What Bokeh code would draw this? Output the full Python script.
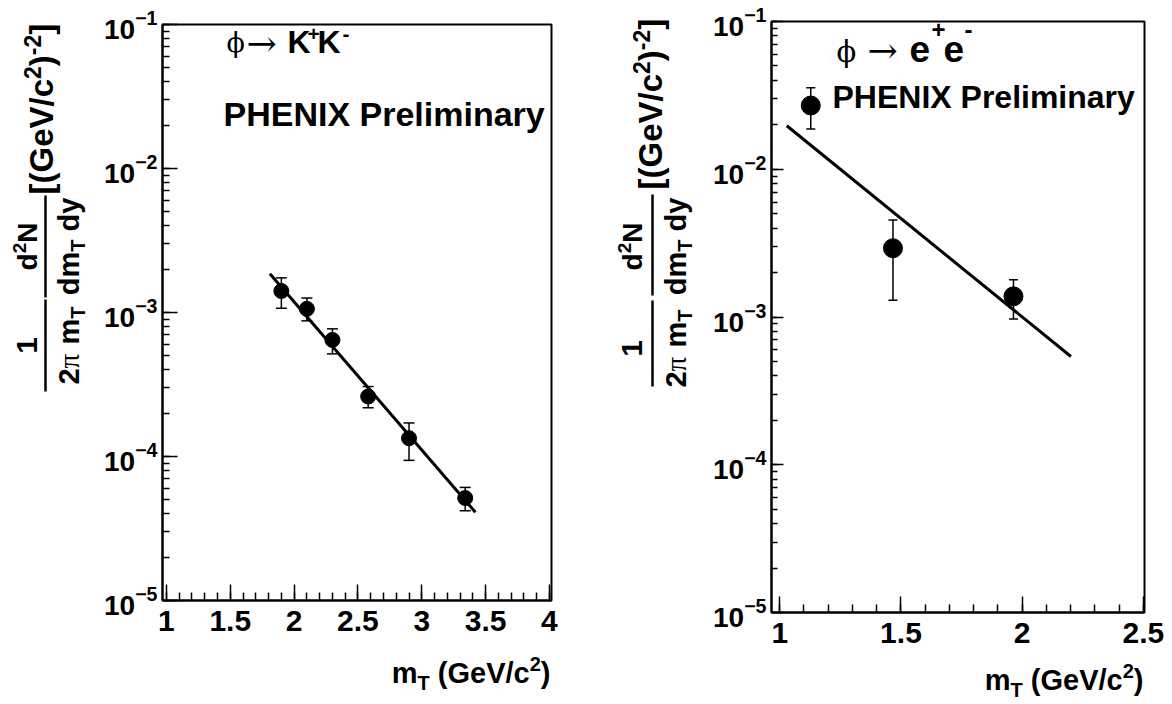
import math
from bokeh.plotting import figure
from bokeh.layouts import row, column
from bokeh.core.properties import value
from bokeh.models import (Range1d, LogTicker, SingleIntervalTicker, Label,
                          Whisker, TeeHead, ColumnDataSource, CustomJSTickFormatter)
from bokeh.embed import file_html
from bokeh.resources import INLINE

# ---------------- data ----------------
kk_mt = [1.90, 2.10, 2.30, 2.58, 2.90, 3.34]
kk_y = [1.41e-3, 1.06e-3, 6.45e-4, 2.61e-4, 1.34e-4, 5.15e-5]
kk_hi = [1.74e-3, 1.26e-3, 7.7e-4, 3.06e-4, 1.71e-4, 6.1e-5]
kk_lo = [1.07e-3, 8.75e-4, 5.16e-4, 2.18e-4, 9.4e-5, 4.2e-5]
kk_fit_mt = [1.81, 3.42]
kk_fit_y = [1.86e-3, 4.1e-5]

ee_mt = [1.128, 1.467, 1.964]
ee_y = [2.70e-2, 2.92e-3, 1.38e-3]
ee_hi = [3.56e-2, 4.54e-3, 1.79e-3]
ee_lo = [1.87e-2, 1.30e-3, 9.7e-4]
ee_fit_mt = [1.029, 2.201]
ee_fit_y = [1.97e-2, 5.4e-4]

y_lo, y_hi = 1e-5, 1e-1
kk_xrange = (0.969, 4.016)
ee_xrange = (0.966, 2.5045)

SANS = "Liberation Sans"
SERIF = "DejaVu Serif"
TIMES = "Liberation Serif"

# Arial/Liberation Sans Bold advance widths (1/1000 em)
WID = {' ': 278, '(': 333, ')': 333, '[': 333, ']': 333, '/': 278, '-': 333, '+': 584,
       'G': 778, 'V': 667, 'K': 722, 'T': 611, 'N': 722, 'c': 556, 'd': 611, 'e': 556,
       'm': 889, 'y': 556, '1': 556, '2': 556, 'π': 549}
BASE_K = 0.36   # renderer draws "alphabetic" text ~0.36 em low; compensate


def tw(s, fs):
    return sum(WID.get(ch, 556) for ch in s) * fs / 1000.0


# ---------------- plot panels ----------------
def make_fig(width, height, xr, bl, br, bt, bb, tick_in, xtick_in):
    p = figure(width=width, height=height, x_range=Range1d(*xr),
               y_range=Range1d(y_lo, y_hi), y_axis_type="log",
               output_backend="svg", toolbar_location=None,
               min_border_left=bl, min_border_right=br,
               min_border_top=bt, min_border_bottom=bb)
    p.grid.visible = False
    p.outline_line_color = "black"
    p.outline_line_width = 2
    p.background_fill_color = "white"
    p.border_fill_color = "white"
    for ax in (p.xaxis[0], p.yaxis[0]):
        ax.axis_line_width = 2
        ax.axis_line_color = "black"
        ax.major_tick_out = 0
        ax.minor_tick_out = 0
        ax.major_tick_line_width = 1.5
        ax.minor_tick_line_width = 1.5
        ax.major_label_text_font = SANS
        ax.major_label_text_font_style = "bold"
        ax.major_label_text_color = "black"
    p.xaxis.major_label_text_font_size = "30px"
    p.yaxis.major_label_text_font_size = "28px"
    p.xaxis.ticker = SingleIntervalTicker(interval=0.5, num_minor_ticks=5)
    p.xaxis.formatter = CustomJSTickFormatter(
        code="return tick.toFixed(1).replace(/\\.0$/, '');")
    p.xaxis.major_tick_in = xtick_in
    p.xaxis.minor_tick_in = xtick_in // 2
    p.xaxis.major_label_standoff = 10
    p.yaxis.ticker = LogTicker(num_minor_ticks=10)
    p.yaxis.major_tick_in = tick_in
    p.yaxis.minor_tick_in = tick_in // 2
    p.yaxis.major_label_standoff = 5
    return p


class Frame:
    """page-pixel -> data conversion for labels inside a plot frame"""
    def __init__(self, L, R, T, B, xr):
        self.L, self.R, self.T, self.B = L, R, T, B
        self.x0, self.x1 = xr

    def data(self, X, Y):
        x = self.x0 + (X - self.L) / (self.R - self.L) * (self.x1 - self.x0)
        ly = math.log10(y_hi) - (Y - self.T) / (self.B - self.T) * (math.log10(y_hi) - math.log10(y_lo))
        return x, 10 ** ly


def lab(p, F, text, X, Y, fs, font=SANS, bold=True):
    x, y = F.data(X, Y - BASE_K * fs)
    p.add_layout(Label(x=x, y=y, text=text, text_font=font,
                       text_font_size=f"{fs}px",
                       text_font_style="bold" if bold else "normal",
                       text_align="left", text_baseline="alphabetic",
                       text_color="black"))


def data_marks(p, xs, ys, hi, lo, fx, fy, msize, cap):
    src = ColumnDataSource(dict(x=xs, y=ys, upper=hi, lower=lo))
    p.add_layout(Whisker(source=src, base="x", upper="upper", lower="lower",
                         line_width=1.5, line_color="black",
                         upper_head=TeeHead(size=cap, line_width=1.5, line_color="black"),
                         lower_head=TeeHead(size=cap, line_width=1.5, line_color="black")))
    p.scatter("x", "y", source=src, size=msize, color="black")
    p.line(fx, fy, line_width=3, color="black")


# ---------------- text-only panels (axis titles) ----------------
def text_fig(X0, X1, Y0, Y1, bl=0, br=0):
    """frame covers page pixels X0..X1 (plus borders bl/br outside it)"""
    p = figure(width=X1 - X0 + bl + br, height=Y1 - Y0, x_range=Range1d(X0, X1),
               y_range=Range1d(-Y1, -Y0), output_backend="svg", title=None,
               toolbar_location=None, min_border=0,
               min_border_left=bl, min_border_right=br,
               x_axis_location=None, y_axis_location=None)
    p.grid.visible = False
    p.outline_line_color = None
    p.background_fill_color = "white"
    p.border_fill_color = "white"
    return p


def tx(p, text, X, Y, fs, font=SANS, bold=True, angle=0.0):
    p.text(x=[X], y=[-Y], text=[text], text_font=value(font),
           text_font_size=value(f"{fs}px"),
           text_font_style=value("bold" if bold else "normal"),
           text_align=value("left"), text_baseline=value("alphabetic"),
           angle=angle, text_color="black")


def split_lead(t, fs):
    s = t.lstrip(" ")
    return s, (len(t) - len(s)) * WID[' '] * fs / 1000.0


def run_h(p, pieces, X, Y):
    for t, fs, font, bold, dy in pieces:
        s, lead = split_lead(t, fs)
        tx(p, s, X + lead, Y + dy - BASE_K * fs, fs, font, bold)
        X += tw(t, fs)


def run_v(p, pieces, X, Y):
    for t, fs, font, bold, dx in pieces:
        s, lead = split_lead(t, fs)
        tx(p, s, X + dx - BASE_K * fs, Y - lead, fs, font, bold, angle=math.pi / 2)
        Y -= tw(t, fs)


def run_v_center(p, pieces, X, Yc):
    total = sum(tw(t, fs) for t, fs, _, _, _ in pieces)
    run_v(p, pieces, X, Yc + total / 2)


def y_title(p, L, offs, yc1, bar1, yc2, bar2, br_start):
    xn, xb, xd, xk = (L + o for o in offs)
    fn, fd, fsm, fsb, fsbs = 28, 29, 20, 33, 23
    run_v_center(p, [("1", 30, SANS, True, 0)], xn, yc1)
    run_v_center(p, [("2", fd, SANS, True, 0), ("π", fd, TIMES, False, 0),
                     (" m", fd, SANS, True, 0), ("T", fsm, SANS, True, 6)], xd, yc1)
    p.segment(x0=[xb], y0=[-bar1[0]], x1=[xb], y1=[-bar1[1]], line_width=2.5, color="black")
    run_v_center(p, [("d", fn, SANS, True, 0), ("2", 19, SANS, True, -11),
                     ("N", fn, SANS, True, 0)], xn, yc2)
    run_v_center(p, [("dm", fd, SANS, True, 0), ("T", fsm, SANS, True, 6),
                     (" dy", fd, SANS, True, 0)], xd, yc2)
    p.segment(x0=[xb], y0=[-bar2[0]], x1=[xb], y1=[-bar2[1]], line_width=2.5, color="black")
    run_v(p, [("[(GeV/c", fsb, SANS, True, 0), ("2", fsbs, SANS, True, -13),
              (")", fsb, SANS, True, 0), ("-2", fsbs, SANS, True, -13),
              ("]", fsb, SANS, True, 0)], xk, br_start)


def x_title(p, end_x, base_y):
    fs, fsm = 29, 20
    pieces = [("m", fs, SANS, True, 0), ("T", fsm, SANS, True, 7),
              (" (GeV/c", fs, SANS, True, 0), ("2", fsm, SANS, True, -12),
              (")", fs, SANS, True, 0)]
    total = sum(tw(t, s) for t, s, _, _, _ in pieces)
    run_h(p, pieces, end_x - total, base_y)


H = 700

# ---------------- left panel: phi -> K+K- ----------------
T1 = text_fig(0, 100, 0, H)
p1 = make_fig(500, 648, kk_xrange, 62, 49, 24, 48, 15, 16)
X1 = text_fig(162, 551, 648, H, bl=62, br=49)
F1 = Frame(162, 551, 24, 600, kk_xrange)
data_marks(p1, kk_mt, kk_y, kk_hi, kk_lo, kk_fit_mt, kk_fit_y, 15, 11)
y_title(T1, 162, (-125, -117, -83, -109), 345, (391, 299), 246, (297, 195), 194)
x_title(X1, 550, 683)
lab(p1, F1, "ϕ", 226, 52, 27, SERIF, False)
lab(p1, F1, "→", 246, 56, 36, SERIF, False)
lab(p1, F1, "K", 287, 53, 32)
lab(p1, F1, "+", 307, 41, 21)
lab(p1, F1, "K", 317, 53, 32)
lab(p1, F1, "-", 342, 41, 21)
lab(p1, F1, "PHENIX Preliminary", 223, 126, 34)

# ---------------- right panel: phi -> e+e- ----------------
T2 = text_fig(600, 706, 0, H)
p2 = make_fig(464, 652, ee_xrange, 65, 26, 21, 40, 12, 16)
X2 = text_fig(771, 1144, 652, H, bl=65, br=26)
F2 = Frame(771, 1144, 21, 612, ee_xrange)
data_marks(p2, ee_mt, ee_y, ee_hi, ee_lo, ee_fit_mt, ee_fit_y, 19, 9)
y_title(T2, 771, (-129, -119, -85, -109), 348, (386, 300), 246, (295, 194), 189)
x_title(X2, 1143, 690)
lab(p2, F2, "ϕ", 836, 62, 29, SERIF, False)
lab(p2, F2, "→", 867, 63, 36, SERIF, False)
lab(p2, F2, "e", 909, 62, 37)
lab(p2, F2, "+", 931, 38, 24)
lab(p2, F2, "e", 943, 62, 37)
lab(p2, F2, "-", 964, 38, 24)
lab(p2, F2, "PHENIX Preliminary", 832, 108, 32)

layout = row(T1, column(p1, X1), T2, column(p2, X2))
open("out.html", "w").write(file_html(layout, INLINE))
